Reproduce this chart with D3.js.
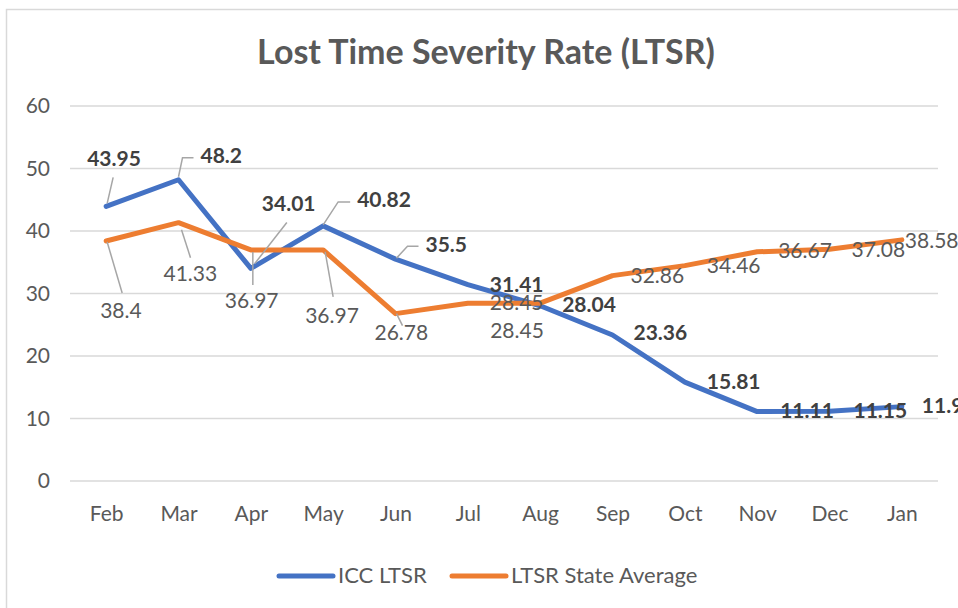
<!DOCTYPE html>
<html><head><meta charset="utf-8">
<script src="https://cdn.jsdelivr.net/npm/d3@7"></script>
<style>body{margin:0;background:#fff;}svg{display:block;font-family:Lato,"Open Sans",sans-serif;}</style>
</head><body>
<svg id="c" width="958" height="608"></svg>
<script>
const months = ["Feb","Mar","Apr","May","Jun","Jul","Aug","Sep","Oct","Nov","Dec","Jan"];
const iccLTSR = [43.95,48.2,34.01,40.82,35.5,31.41,28.04,23.36,15.81,11.11,11.15,11.9];
const stateAvg = [38.4,41.33,36.97,36.97,26.78,28.45,28.45,32.86,34.46,36.67,37.08,38.58];
const yTicks = [0,10,20,30,40,50,60];
const seriesNames = ["ICC LTSR","LTSR State Average"];

// label placement: offsets (px) of label left edge / centre from its point; leader polyline relative to point
const blueLbl = [
  {dx:-19,dy:-46,lead:[[1,-3],[7,-29]]},
  {dx:22,dy:-22,lead:[[0,-3],[4,-22],[15,-22]]},
  {dx:11,dy:-63,lead:[[4,-5],[36,-46]]},
  {dx:34,dy:-24,lead:[[0,-1],[15,-24],[27,-24]]},
  {dx:30,dy:-13,lead:[[1,-1],[12,-13],[23,-13]]},
  {dx:22,dy:2},
  {dx:22,dy:1},
  {dx:21,dy:0},
  {dx:22,dy:1},
  {dx:23,dy:1},
  {dx:24,dy:1},
  {dx:20,dy:1}
];
const orangeLbl = [
  {dx:-6,dy:72,lead:[[1,1],[16,52]]},
  {dx:-15,dy:53,lead:[[3,7],[12,35]]},
  {dx:-26,dy:53,lead:[[2,2],[2,35]]},
  {dx:-18,dy:68,lead:[[2,2],[10,47]]},
  {dx:-21,dy:21,lead:[[1,0],[7,12]]},
  {dx:22,dy:1},
  {dx:-50,dy:29},
  {dx:18,dy:2},
  {dx:22,dy:2.5},
  {dx:21,dy:1},
  {dx:22,dy:2.5},
  {dx:3,dy:3}
];

const svg = d3.select("#c");
const W = 958, H = 608;
const pL = 70, pR = 938, pT = 106, pB = 481;
const FONT = "Lato,'Open Sans',sans-serif";

// chart border
svg.append("rect").attr("x",6.5).attr("y",9.5).attr("width",W+10).attr("height",H+10)
  .attr("fill","#fff").attr("stroke","#d9d9d9").attr("stroke-width",1.5);

const x = d3.scalePoint().domain(months).range([pL,pR]).padding(0.5);
const y = d3.scaleLinear().domain([0,60]).range([pB,pT]);

// gridlines
svg.append("g").selectAll("line").data(yTicks).join("line")
  .attr("x1",pL).attr("x2",pR).attr("y1",d=>y(d)).attr("y2",d=>y(d))
  .attr("stroke","#d9d9d9").attr("stroke-width",1.5);

// y axis labels
const yAxis = svg.append("g").attr("transform",`translate(${pL},0)`)
  .call(d3.axisLeft(y).tickValues(yTicks).tickSize(0).tickPadding(20));
yAxis.select(".domain").remove();
yAxis.selectAll("text").attr("font-size",21).attr("fill","#595959").attr("font-family",FONT);

// x axis labels
const xAxis = svg.append("g").attr("transform",`translate(0,${pB})`)
  .call(d3.axisBottom(x).tickSize(0).tickPadding(25));
xAxis.select(".domain").remove();
xAxis.selectAll("text").attr("font-size",21).attr("fill","#595959").attr("font-family",FONT);

// title
svg.append("text").attr("x",486).attr("y",55).attr("text-anchor","middle").attr("dominant-baseline","middle")
  .attr("font-size",34).attr("font-weight","bold").attr("fill","#595959").text("Lost Time Severity Rate (LTSR)");

const line = d3.line().x((d,i)=>x(months[i])).y(d=>y(d));
const colors = ["#4472C4","#ED7D31"];
const datasets = [iccLTSR, stateAvg];
datasets.forEach((ds,k)=>{
  svg.append("path").datum(ds).attr("d",line).attr("fill","none")
    .attr("stroke",colors[k]).attr("stroke-width",5).attr("stroke-linejoin","round").attr("stroke-linecap","round");
});

// labels
function drawLabels(ds, cfg, bold, color){
  const g = svg.append("g");
  ds.forEach((v,i)=>{
    const px = x(months[i]), py = y(v), c = cfg[i];
    if(c.lead){
      g.append("polyline").attr("points", c.lead.map(p=>[px+p[0],py+p[1]].join(",")).join(" "))
        .attr("fill","none").attr("stroke","#a6a6a6").attr("stroke-width",1.5);
    }
    g.append("text").attr("x",px+c.dx).attr("y",py+c.dy).attr("text-anchor","start")
      .attr("dominant-baseline","middle").attr("font-size",21)
      .attr("font-weight",bold?"bold":"normal").attr("fill",color).text(v);
  });
}
drawLabels(stateAvg, orangeLbl, false, "#595959");
drawLabels(iccLTSR, blueLbl, true, "#404040");

// legend
const leg = svg.append("g");
const legItems = [{x:279,name:seriesNames[0],c:colors[0]},{x:452,name:seriesNames[1],c:colors[1]}];
legItems.forEach(it=>{
  leg.append("line").attr("x1",it.x).attr("x2",it.x+54).attr("y1",576).attr("y2",576)
    .attr("stroke",it.c).attr("stroke-width",5).attr("stroke-linecap","round");
  leg.append("text").attr("x",it.x+59).attr("y",577).attr("dominant-baseline","middle")
    .attr("font-size",22).attr("fill","#595959").text(it.name);
});
</script>
</body></html>
